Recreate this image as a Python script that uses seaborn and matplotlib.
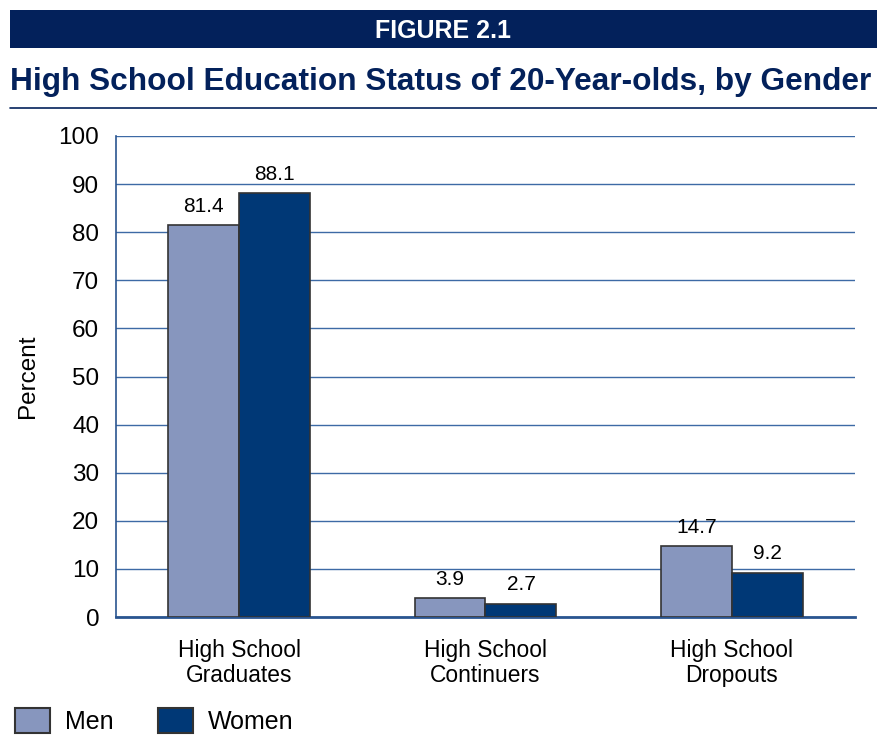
import matplotlib
matplotlib.use("Agg")
import matplotlib.pyplot as plt
import seaborn as sns
import pandas as pd
from matplotlib.patches import Rectangle

categories = ["High School\nGraduates", "High School\nContinuers", "High School\nDropouts"]
men = [81.4, 3.9, 14.7]
women = [88.1, 2.7, 9.2]
groups = ["Men", "Women"]
yticks = [0, 10, 20, 30, 40, 50, 60, 70, 80, 90, 100]

df = pd.DataFrame({
    "Category": categories * 2,
    "Group": [groups[0]] * 3 + [groups[1]] * 3,
    "Percent": men + women,
})

sns.set_theme(style="white")
plt.rcParams["font.family"] = ["Liberation Sans", "DejaVu Sans"]
plt.rcParams["text.color"] = "black"
plt.rcParams["axes.labelcolor"] = "black"
plt.rcParams["xtick.color"] = "black"
plt.rcParams["ytick.color"] = "black"

navy = "#03215B"
palette = {"Men": "#8796BE", "Women": "#003876"}
grid_col = "#3D6AA5"

fig = plt.figure(figsize=(8.78, 7.45), dpi=100)
W, H = 878, 745

# header band
fig.patches.append(Rectangle((10 / W, 1 - 48 / H), (W - 10) / W, 38 / H,
                             transform=fig.transFigure, facecolor=navy,
                             edgecolor="none", zorder=0))
fig.text(443 / W, 1 - 31 / H, "FIGURE 2.1", color="white", fontsize=18,
         fontweight="bold", ha="center", va="center")
fig.text(10 / W, 1 - 82 / H, "High School Education Status of 20-Year-olds, by Gender",
         color=navy, fontsize=22.8, fontweight="bold", ha="left", va="center")
fig.lines.append(plt.Line2D([10 / W, 1], [1 - 108 / H, 1 - 108 / H],
                            transform=fig.transFigure, color=navy, lw=1.2))

ax = fig.add_axes([116 / W, 1 - 617 / H, (855 - 116) / W, (617 - 136) / H])
sns.barplot(data=df, x="Category", y="Percent", hue="Group", palette=palette,
            width=0.576, edgecolor="#333333", linewidth=1.2, saturation=1,
            ax=ax, legend=False, zorder=3)

for container in ax.containers:
    ax.bar_label(container, fmt="%.1f", padding=7, fontsize=15)

ax.set_xlim(-0.5, 2.5)
ax.set_ylim(0, 100)
ax.set_yticks(yticks)
ax.set_yticklabels([str(t) for t in yticks], fontsize=17.5)
ax.tick_params(axis="x", labelsize=16.4, pad=16, length=0)
ax.tick_params(axis="y", pad=12, length=0)
for lbl in ax.get_xticklabels():
    lbl.set_linespacing(1.1)
ax.set_xlabel("")
ax.set_ylabel("Percent", fontsize=17.5, labelpad=14)

ax.yaxis.grid(True, color=grid_col, lw=1, zorder=0)
ax.set_axisbelow(True)
for s in ["top", "right"]:
    ax.spines[s].set_visible(False)
ax.spines["left"].set_color("#2A5590")
ax.spines["left"].set_linewidth(1.2)
ax.spines["bottom"].set_color("#2A5590")
ax.spines["bottom"].set_linewidth(2)

# legend
for x0, label in [(15, "Men"), (158, "Women")]:
    fig.patches.append(Rectangle((x0 / W, 1 - 733 / H), 35 / W, 25 / H,
                                 transform=fig.transFigure,
                                 facecolor=palette[label], edgecolor="#333333",
                                 lw=1.5))
    fig.text((x0 + 50) / W, 1 - 722 / H, label, fontsize=18, ha="left",
             va="center")

fig.savefig("out.png", dpi=100)
